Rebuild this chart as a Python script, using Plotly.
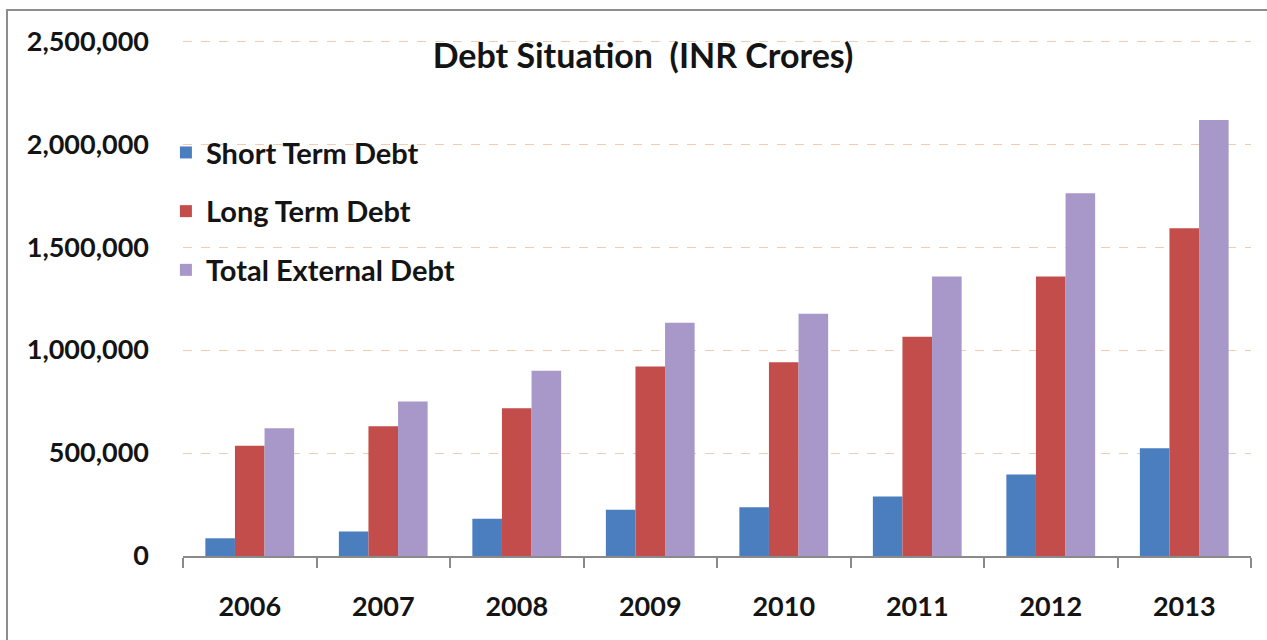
import plotly.graph_objects as go

# Debt figures, INR crores
years = ["2006", "2007", "2008", "2009", "2010", "2011", "2012", "2013"]
short_term = [86000, 119000, 181000, 224000, 237000, 289000, 396000, 523000]
long_term = [535000, 630000, 717000, 920000, 941000, 1065000, 1357000, 1591000]
total_external = [620000, 750000, 899000, 1132000, 1176000, 1357000, 1761000, 2117000]

y_ticks = [0, 500000, 1000000, 1500000, 2000000, 2500000]

series = [
    ("Short Term Debt", short_term, "#4A7EBF"),
    ("Long Term Debt", long_term, "#C24D4A"),
    ("Total External Debt", total_external, "#A897C9"),
]

FONT = "Lato"
TEXT = "#141414"

fig = go.Figure()
for i, (name, vals, color) in enumerate(series):
    fig.add_trace(go.Bar(
        x=years, y=vals, name=name,
        marker=dict(color=color, line=dict(width=0)),
        legendgroup=f"g{i}",
    ))

fig.update_layout(
    width=1267, height=640,
    margin=dict(l=183, r=16, t=38, b=84),
    paper_bgcolor="white", plot_bgcolor="white",
    barmode="group", bargap=0.335, bargroupgap=0,
    font=dict(family=FONT, color=TEXT, size=22),
    title=dict(
        text="<b>Debt Situation  (INR Crores)</b>",
        x=643 / 1267, xanchor="center", xref="container",
        y=1 - 56 / 640, yanchor="middle", yref="container",
        font=dict(family=FONT, size=34, color=TEXT),
    ),
    legend=dict(
        x=-0.016, y=0.828, xanchor="left", yanchor="top",
        bgcolor="rgba(0,0,0,0)",
        font=dict(family=FONT, size=29, color=TEXT, weight="bold"),
        tracegroupgap=18, itemsizing="constant",
    ),
    showlegend=True,
)

fig.update_xaxes(
    type="category",
    showline=True, linecolor="#8A8A8A", linewidth=1.5,
    ticks="outside", tickson="boundaries", ticklen=10, tickcolor="#8A8A8A",
    tickwidth=1.5,
    tickfont=dict(family=FONT, size=27, color=TEXT, weight="bold"),
    ticklabelstandoff=26,
    showgrid=False,
)

fig.update_yaxes(
    range=[0, 2515000],
    tickvals=y_ticks, tickformat=",",
    showline=False, ticks="",
    showgrid=True, gridcolor="#F3CBAE", griddash="dash", gridwidth=1,
    zeroline=False,
    tickfont=dict(family=FONT, size=27, color=TEXT, weight="bold"),
    ticklabelstandoff=33,
)

# Outer frame around the chart
fig.add_shape(
    type="rect", xref="paper", yref="paper",
    x0=-0.1648, x1=1.03, y0=-0.2, y1=(556 - 10) / 518,
    line=dict(color="#8E8E8E", width=2), fillcolor="rgba(0,0,0,0)",
    layer="below",
)

fig.write_html("out.html")
